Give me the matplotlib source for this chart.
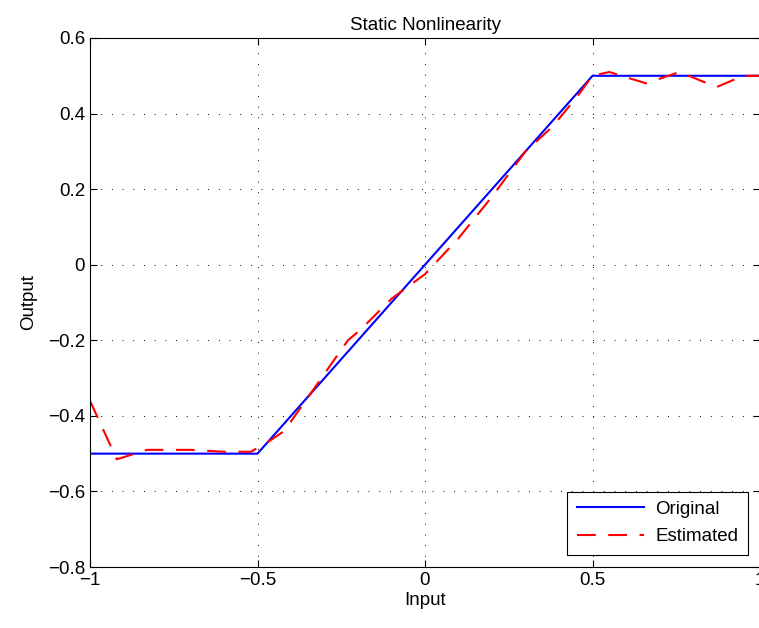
import matplotlib.pyplot as plt

plt.rcParams['font.family'] = ['Liberation Sans', 'DejaVu Sans']
plt.rcParams['font.size'] = 13.5

# true saturation nonlinearity
x_orig = [-1.0, -0.5, 0.5, 1.0]
y_orig = [-0.5, -0.5, 0.5, 0.5]

# estimated piecewise-linear nonlinearity
x_est = [-1.0, -0.92, -0.83, -0.7, -0.6, -0.52, -0.47, -0.42, -0.23, -0.19,
         -0.1, 0.0, 0.1, 0.2, 0.3, 0.38, 0.45, 0.5, 0.55, 0.66, 0.76, 0.87,
         0.95, 1.0]
y_est = [-0.36, -0.515, -0.49, -0.49, -0.495, -0.495, -0.47, -0.44, -0.2, -0.17,
         -0.09, -0.025, 0.07, 0.18, 0.3, 0.365, 0.44, 0.5, 0.51, 0.48, 0.51, 0.47,
         0.5, 0.5]

fig = plt.figure(figsize=(7.59, 6.28), dpi=100)
ax = fig.add_axes([90 / 759, 1 - 567 / 628, 670 / 759, 529 / 628])

ax.plot(x_orig, y_orig, color='blue', lw=1.5, label='Original')
ax.plot(x_est, y_est, color='red', lw=1.5, dashes=(9, 6), label='Estimated')

ax.set_xlim(-1, 1)
ax.set_ylim(-0.8, 0.6)
ax.set_xticks([-1, -0.5, 0, 0.5, 1])
ax.set_xticklabels(['\u22121', '\u22120.5', '0', '0.5', '1'])
yt = [-0.8, -0.6, -0.4, -0.2, 0, 0.2, 0.4, 0.6]
ax.set_yticks(yt)
ax.set_yticklabels([('%g' % v).replace('-', '\u2212') for v in yt])
ax.tick_params(direction='in', top=True, right=True, length=5, width=0.8)
ax.grid(True, color='black', linestyle=(0, (1, 10)), linewidth=0.7)

ax.set_title('Static Nonlinearity', fontsize=13.5, pad=6)
ax.set_xlabel('Input', labelpad=2)
ax.set_ylabel('Output', labelpad=8)

leg = ax.legend(loc='lower right', bbox_to_anchor=(0.982, 0.023),
                borderaxespad=0, fancybox=False, framealpha=1, edgecolor='black',
                handlelength=3.6, borderpad=0.5, labelspacing=0.55,
                handletextpad=0.6)
leg.get_frame().set_linewidth(0.8)

fig.savefig('out.png', dpi=100)
